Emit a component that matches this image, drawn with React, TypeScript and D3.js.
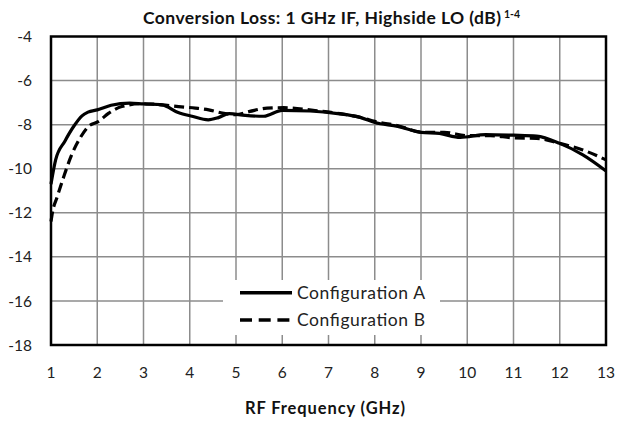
import React from "react";
import * as d3 from "d3";

const freqA = [1.0, 1.1, 1.3, 1.5, 1.67, 1.8, 2.0, 2.3, 2.7, 3.0, 3.4, 3.75, 4.05, 4.4, 4.62, 4.85, 5.2, 5.6, 6.0, 6.6, 7.2, 7.7, 8.0, 8.5, 9.0, 9.4, 9.85, 10.4, 11.0, 11.5, 12.0, 12.5, 13.0];
const lossA = [-10.7, -9.6, -8.75, -8.05, -7.6, -7.43, -7.33, -7.12, -7.02, -7.06, -7.1, -7.45, -7.62, -7.78, -7.68, -7.5, -7.58, -7.62, -7.35, -7.38, -7.5, -7.68, -7.9, -8.08, -8.35, -8.4, -8.58, -8.45, -8.48, -8.52, -8.85, -9.37, -10.1];

const freqB = [1.0, 1.03, 1.13, 1.27, 1.45, 1.63, 1.81, 2.03, 2.25, 2.53, 2.97, 3.4, 3.76, 4.12, 4.41, 4.65, 5.0, 5.3, 5.67, 6.03, 6.67, 7.25, 7.75, 8.0, 8.5, 9.05, 9.5, 10.0, 10.5, 11.0, 11.5, 12.0, 12.5, 13.0];
const lossB = [-12.4, -12.0, -11.3, -10.4, -9.35, -8.6, -8.08, -7.85, -7.48, -7.18, -7.05, -7.1, -7.18, -7.25, -7.33, -7.45, -7.55, -7.4, -7.25, -7.23, -7.35, -7.5, -7.7, -7.85, -8.05, -8.35, -8.35, -8.5, -8.5, -8.6, -8.62, -8.85, -9.15, -9.6];

const xTicks = [1, 2, 3, 4, 5, 6, 7, 8, 9, 10, 11, 12, 13];
const yTicks = [-4, -6, -8, -10, -12, -14, -16, -18];
const seriesNames = ["Configuration A", "Configuration B"];

const W = 622, H = 423;
const L = 51, R = 606, T = 36.5, B = 345;
const FONT = "Lato, 'Open Sans', sans-serif";

export default function App() {
  const x = d3.scaleLinear().domain([1, 13]).range([L, R]);
  const y = d3.scaleLinear().domain([-18, -4]).range([B, T]);
  const line = d3.line<[number, number]>().x(d => x(d[0])).y(d => y(d[1])).curve(d3.curveMonotoneX);
  const dA = line(freqA.map((f, i) => [f, lossA[i]] as [number, number])) || "";
  const dB = line(freqB.map((f, i) => [f, lossB[i]] as [number, number])) || "";
  const grid = "#8c8c8c";
  const leg = { x0: 223, x1: 440, y0: 280, y1: 335 };
  return (
    <svg width={W} height={H} style={{ position: "absolute", left: 0, top: 0, background: "#fff" }} fontFamily={FONT}>
      <rect x={0} y={0} width={W} height={H} fill="#fff" />
      {xTicks.slice(1, -1).map(t => (
        <line key={"gx" + t} x1={x(t)} x2={x(t)} y1={T} y2={B} stroke={grid} strokeWidth={1.5} />
      ))}
      {yTicks.slice(1, -1).map(t => (
        <line key={"gy" + t} x1={L} x2={R} y1={y(t)} y2={y(t)} stroke={grid} strokeWidth={1.5} />
      ))}
      <path d={dA} fill="none" stroke="#000" strokeWidth={3.2} strokeLinejoin="round" />
      <path d={dB} fill="none" stroke="#000" strokeWidth={3.2} strokeDasharray="10,5" />
      <rect x={leg.x0} y={leg.y0} width={leg.x1 - leg.x0} height={leg.y1 - leg.y0} fill="#fff" />
      <rect x={L} y={T} width={R - L} height={B - T} fill="none" stroke="#000" strokeWidth={2.5} />
      {yTicks.map(t => (
        <text key={"yl" + t} x={32} y={y(t)} dy="0.36em" textAnchor="end" fontSize={15.5} fill="#222">{t}</text>
      ))}
      {xTicks.map(t => (
        <text key={"xl" + t} x={x(t)} y={378} textAnchor="middle" fontSize={15.5} fill="#222">{t}</text>
      ))}
      <line x1={240} x2={292} y1={292.7} y2={292.7} stroke="#000" strokeWidth={3.5} />
      <line x1={240} x2={292} y1={320} y2={320} stroke="#000" strokeWidth={3.5} strokeDasharray="12,6.7" />
      <text x={297} y={292.7} dy="0.36em" fontSize={17.5} fill="#222" textLength={128} lengthAdjust="spacing">{seriesNames[0]}</text>
      <text x={297} y={320} dy="0.36em" fontSize={17.5} fill="#222" textLength={128} lengthAdjust="spacing">{seriesNames[1]}</text>
      <text x={143} y={24} fontSize={17.5} fontWeight="bold" fill="#111" textLength={358} lengthAdjust="spacing">
        Conversion Loss: 1 GHz IF, Highside LO (dB)
      </text>
      <text x={504} y={18} fontSize={10.5} fontWeight="bold" fill="#111">1-4</text>
      <text x={245} y={413.5} fontSize={16.5} fontWeight="bold" fill="#111" textLength={160} lengthAdjust="spacing">RF Frequency (GHz)</text>
    </svg>
  );
}
